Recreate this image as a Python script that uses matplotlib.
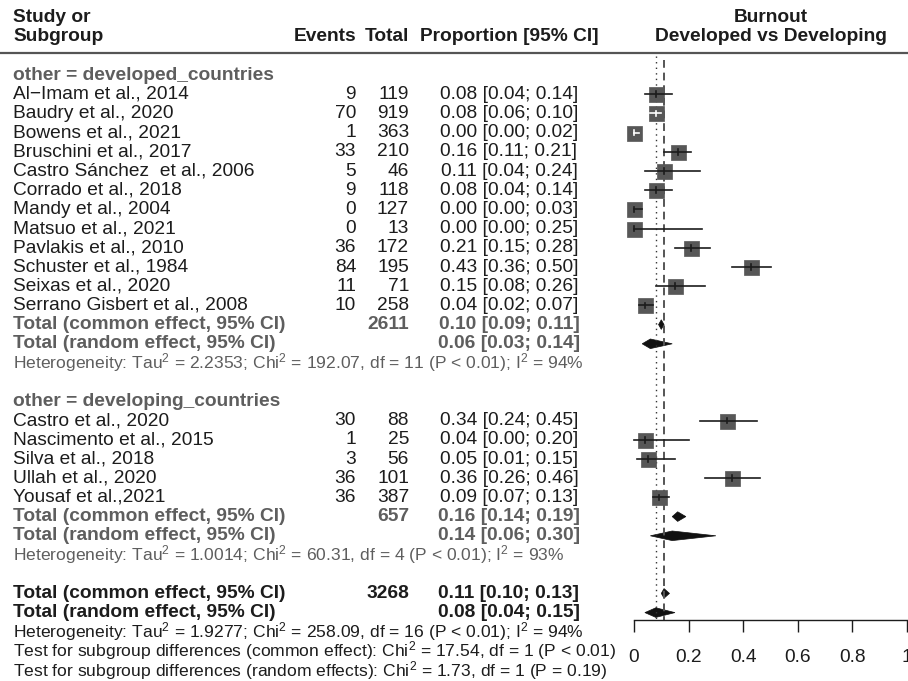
import numpy as np
import matplotlib

matplotlib.use("Agg")
import matplotlib.pyplot as plt
from matplotlib.patches import Polygon

plt.rcParams["font.family"] = ["Liberation Sans", "DejaVu Sans"]
plt.rcParams["mathtext.fontset"] = "custom"
plt.rcParams["mathtext.rm"] = "Liberation Sans"
plt.rcParams["mathtext.it"] = "Liberation Sans:italic"
plt.rcParams["mathtext.bf"] = "Liberation Sans:bold"
plt.rcParams["mathtext.default"] = "regular"

# --- data -------------------------------------------------------------------
dev_studies = [
    "Al\u2212Imam et al., 2014", "Baudry et al., 2020", "Bowens et al., 2021",
    "Bruschini et al., 2017", "Castro Sánchez  et al., 2006", "Corrado et al., 2018",
    "Mandy et al., 2004", "Matsuo et al., 2021", "Pavlakis et al., 2010",
    "Schuster et al., 1984", "Seixas et al., 2020", "Serrano Gisbert et al., 2008",
]
dev_events = [9, 70, 1, 33, 5, 9, 0, 0, 36, 84, 11, 10]
dev_total = [119, 919, 363, 210, 46, 118, 127, 13, 172, 195, 71, 258]
dev_est = [0.08, 0.08, 0.00, 0.16, 0.11, 0.08, 0.00, 0.00, 0.21, 0.43, 0.15, 0.04]
dev_lo = [0.04, 0.06, 0.00, 0.11, 0.04, 0.04, 0.00, 0.00, 0.15, 0.36, 0.08, 0.02]
dev_hi = [0.14, 0.10, 0.02, 0.21, 0.24, 0.14, 0.03, 0.25, 0.28, 0.50, 0.26, 0.07]
dev_common = [0.10, 0.09, 0.11]
dev_random = [0.06, 0.03, 0.14]
dev_n = 2611
dev_het = "Heterogeneity: Tau$^2$ = 2.2353; Chi$^2$ = 192.07, df = 11 (P < 0.01); I$^2$ = 94%"

dvg_studies = [
    "Castro et al., 2020", "Nascimento et al., 2015", "Silva et al., 2018",
    "Ullah et al., 2020", "Yousaf et al.,2021",
]
dvg_events = [30, 1, 3, 36, 36]
dvg_total = [88, 25, 56, 101, 387]
dvg_est = [0.34, 0.04, 0.05, 0.36, 0.09]
dvg_lo = [0.24, 0.00, 0.01, 0.26, 0.07]
dvg_hi = [0.45, 0.20, 0.15, 0.46, 0.13]
dvg_common = [0.16, 0.14, 0.19]
dvg_random = [0.14, 0.06, 0.30]
dvg_n = 657
dvg_het = "Heterogeneity: Tau$^2$ = 1.0014; Chi$^2$ = 60.31, df = 4 (P < 0.01); I$^2$ = 93%"

all_common = [0.11, 0.10, 0.13]
all_random = [0.08, 0.04, 0.15]
all_n = 3268
all_het = "Heterogeneity: Tau$^2$ = 1.9277; Chi$^2$ = 258.09, df = 16 (P < 0.01); I$^2$ = 94%"
test_common = "Test for subgroup differences (common effect): Chi$^2$ = 17.54, df = 1 (P < 0.01)"
test_random = "Test for subgroup differences (random effects): Chi$^2$ = 1.73, df = 1 (P = 0.19)"

x_ticks = [0, 0.2, 0.4, 0.6, 0.8, 1]
x_ticklabels = ["0", "0.2", "0.4", "0.6", "0.8", "1"]

# --- layout -----------------------------------------------------------------
W, H = 908, 681
row0_px, row_h = 75, 19.2
ylim = ((H - row0_px) / row_h, -row0_px / row_h)
FS = 13.8
FS_HET = 12.6
BLACK = "#1c1c1c"
GREY = "#5e5e5e"
BOX = "#575757"
box_px = 15

x_name, x_ev, x_tot, x_ci = 13, 356, 409, 509
x0_px, x1_px = 634, 907

fig = plt.figure(figsize=(W / 100, H / 100), dpi=100)
ax_t = fig.add_axes([0, 0, 1, 1])
ax_t.set_xlim(0, W)
ax_t.set_ylim(*ylim)
ax_t.axis("off")

ax_f = fig.add_axes([x0_px / W, 0, (x1_px - x0_px) / W, 1])
ax_f.set_xlim(0, 1)
ax_f.set_ylim(*ylim)
ax_f.patch.set_alpha(0)
for s in ["top", "left", "right"]:
    ax_f.spines[s].set_visible(False)
axis_row = (620 - row0_px) / row_h
ax_f.spines["bottom"].set_position(("data", axis_row))
ax_f.spines["bottom"].set_bounds(0, 1)
ax_f.spines["bottom"].set_color(BLACK)
ax_f.spines["bottom"].set_linewidth(1.0)
ax_f.set_yticks([])
ax_f.set_xticks(x_ticks)
ax_f.set_xticklabels(x_ticklabels, fontsize=FS, color=BLACK)
ax_f.tick_params(axis="x", length=8.6, width=1.0, color=BLACK, pad=12.5)


def txt(x, y, s, ha="left", bold=False, color=BLACK, size=FS):
    ax_t.text(x, y, s, ha=ha, va="center", fontsize=size, color=color,
              fontweight="bold" if bold else "normal")


def ci_str(v):
    return f"{v[0]:.2f} [{v[1]:.2f}; {v[2]:.2f}]"


# header
txt(x_name, -3, "Study or", bold=True)
txt(x_name, -2, "Subgroup", bold=True)
txt(x_ev, -2, "Events", ha="right", bold=True)
txt(x_tot, -2, "Total", ha="right", bold=True)
txt(x_ci, -2, "Proportion [95% CI]", ha="center", bold=True)
mid_f = (x0_px + x1_px) / 2 + 0.5
txt(mid_f, -3, "Burnout", ha="center", bold=True)
txt(mid_f, -2, "Developed vs Developing", ha="center", bold=True)
ax_t.plot([0, W], [-1.15, -1.15], color="#555555", lw=1.6)

half_w = box_px / 2 / (x1_px - x0_px)
box_pt = box_px * 72 / 100


def diamond(v, y, h=0.25, color="#111111"):
    ax_f.add_patch(Polygon([(v[1], y), (v[0], y - h), (v[2], y), (v[0], y + h)],
                           closed=True, facecolor=color, edgecolor=color, lw=0.5,
                           clip_on=False))


def group(start, title, studies, events, totals, est, lo, hi, common, random_, n, het):
    txt(x_name, start, title, bold=True, color=GREY)
    rows = np.arange(start + 1, start + 1 + len(studies))
    for r, name, e, t, m, l, h in zip(rows, studies, events, totals, est, lo, hi):
        txt(x_name, r, name)
        txt(x_ev, r, str(e), ha="right")
        txt(x_tot, r, str(t), ha="right")
        txt(x_ci, r, ci_str([m, l, h]), ha="center")
    ax_f.scatter(est, rows, s=box_pt ** 2, marker="s", color=BOX, edgecolor=BOX,
                 lw=0.5, zorder=3, clip_on=False)
    for r, m, l, h in zip(rows, est, lo, hi):
        inside = l >= m - half_w and h <= m + half_w
        c = "white" if inside else BLACK
        ax_f.plot([l, h], [r, r], color=c, lw=1.2, zorder=4, clip_on=False)
        ax_f.plot([m, m], [r - 0.15, r + 0.15], color=c, lw=1.2, zorder=4, clip_on=False)
    rc = start + 1 + len(studies)
    txt(x_name, rc, "Total (common effect, 95% CI)", bold=True, color=GREY)
    txt(x_tot, rc, str(n), ha="right", bold=True, color=GREY)
    txt(x_ci, rc, ci_str(common), ha="center", bold=True, color=GREY)
    txt(x_name, rc + 1, "Total (random effect, 95% CI)", bold=True, color=GREY)
    txt(x_ci, rc + 1, ci_str(random_), ha="center", bold=True, color=GREY)
    txt(x_name, rc + 2, het, color=GREY, size=FS_HET)
    diamond(common, rc)
    diamond(random_, rc + 1)
    return rc + 4


nxt = group(0, "other = developed_countries", dev_studies, dev_events, dev_total,
            dev_est, dev_lo, dev_hi, dev_common, dev_random, dev_n, dev_het)
nxt = group(nxt, "other = developing_countries", dvg_studies, dvg_events, dvg_total,
            dvg_est, dvg_lo, dvg_hi, dvg_common, dvg_random, dvg_n, dvg_het)

txt(x_name, nxt, "Total (common effect, 95% CI)", bold=True)
txt(x_tot, nxt, str(all_n), ha="right", bold=True)
txt(x_ci, nxt, ci_str(all_common), ha="center", bold=True)
txt(x_name, nxt + 1, "Total (random effect, 95% CI)", bold=True)
txt(x_ci, nxt + 1, ci_str(all_random), ha="center", bold=True)
txt(x_name, nxt + 2, all_het, size=FS_HET)
txt(x_name, nxt + 3, test_common, size=FS_HET)
txt(x_name, nxt + 4, test_random, size=FS_HET)
diamond(all_common, nxt)
diamond(all_random, nxt + 1)

# reference lines
ax_f.plot([all_random[0]] * 2, [-1.0, axis_row], color="#333333", lw=1.0,
          ls=(0, (1, 3)), zorder=1, clip_on=False)
ax_f.plot([all_common[0]] * 2, [-0.8, axis_row], color="#555555", lw=1.4,
          ls=(0, (4, 2.5)), zorder=1, clip_on=False)

fig.savefig("out.png", dpi=100)
